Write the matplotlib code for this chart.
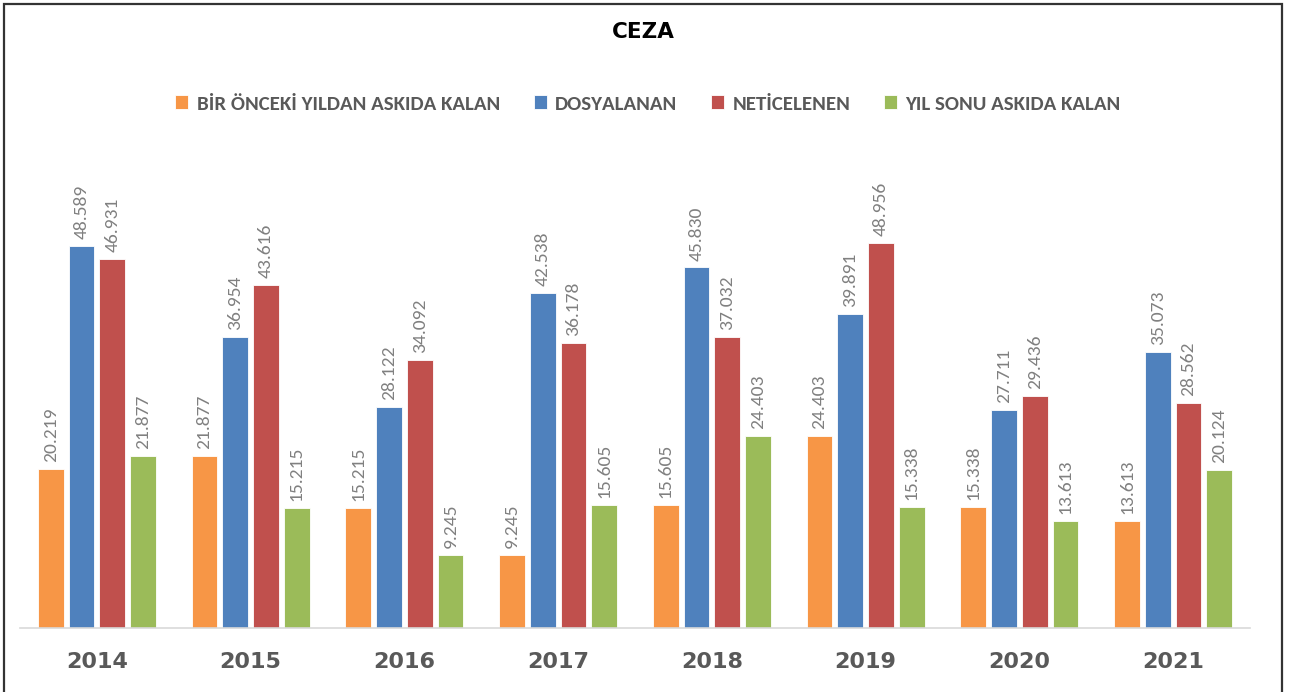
import matplotlib
matplotlib.use("Agg")
import matplotlib.pyplot as plt
from matplotlib.patches import Rectangle
from matplotlib import font_manager
import numpy as np

years = ["2014", "2015", "2016", "2017", "2018", "2019", "2020", "2021"]
series_names = ["BİR ÖNCEKİ YILDAN ASKIDA KALAN", "DOSYALANAN", "NETİCELENEN", "YIL SONU ASKIDA KALAN"]
onceki = [20219, 21877, 15215, 9245, 15605, 24403, 15338, 13613]
dosyalanan = [48589, 36954, 28122, 42538, 45830, 39891, 27711, 35073]
neticelenen = [46931, 43616, 34092, 36178, 37032, 48956, 29436, 28562]
yil_sonu = [21877, 15215, 9245, 15605, 24403, 15338, 13613, 20124]
colors = ["#F79646", "#4F81BD", "#C0504D", "#9BBB59"]

names = {f.name for f in font_manager.fontManager.ttflist}
narrow = "Carlito" if "Carlito" in names else "Open Sans Condensed"

W, H = 1291, 692
fig = plt.figure(figsize=(W / 100, H / 100), dpi=100)
ax = fig.add_axes([20 / W, (H - 628) / H, 1230 / W, (628 - 156) / H])

x = np.arange(len(years))
step = 0.2
width = 0.168
data = [onceki, dosyalanan, neticelenen, yil_sonu]
handles = []
for i, (vals, c) in enumerate(zip(data, colors)):
    pos = x + (i - 1.5) * step
    b = ax.bar(pos, vals, width=width, color=c, edgecolor="white", linewidth=0.6, label=series_names[i])
    handles.append(b)
    for p, v in zip(pos, vals):
        ax.annotate(f"{v:,}".replace(",", "."), (p, v), xytext=(0, 5), textcoords="offset points",
                    rotation=90, ha="center", va="bottom", fontsize=14, color="#808080",
                    family=narrow)

ax.set_xlim(-0.5, len(years) - 0.5)
ax.set_ylim(0, 60000)
for s in ["top", "right", "left"]:
    ax.spines[s].set_visible(False)
ax.spines["bottom"].set_color("#D9D9D9")
ax.spines["bottom"].set_linewidth(1.2)
ax.set_yticks([])
ax.set_xticks(x)
ax.set_xticklabels(years, fontsize=16, fontweight="bold", color="#595959", family="DejaVu Sans")
ax.tick_params(axis="x", length=0, pad=17)

fig.text(643 / W, 1 - 32 / H, "CEZA", ha="center", va="center", fontsize=15.5, fontweight="bold",
         color="black", family="DejaVu Sans")

fig.legend(handles=handles, labels=series_names, loc="center", bbox_to_anchor=(648 / W, 1 - 104 / H),
           ncol=4, frameon=False, prop={"family": narrow, "weight": "bold", "size": 15},
           labelcolor="#595959", handlelength=0.62, handleheight=0.62, handletextpad=0.4,
           columnspacing=1.63)

fig.patches.append(Rectangle((4 / W, -0.05), 1278 / W, 1.05 - 4 / H, transform=fig.transFigure,
                             fill=False, edgecolor="#333333", linewidth=1.6))

fig.savefig("out.png", dpi=100, facecolor="white")
